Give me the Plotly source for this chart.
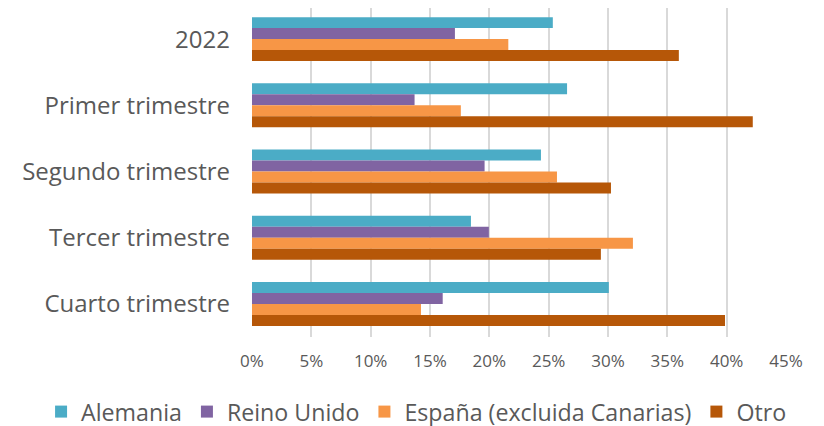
import plotly.graph_objects as go

categories = ["2022", "Primer trimestre", "Segundo trimestre", "Tercer trimestre", "Cuarto trimestre"]
series_names = ["Alemania", "Reino Unido", "España (excluida Canarias)", "Otro"]
alemania = [25.35, 26.55, 24.35, 18.45, 30.07]
reino_unido = [17.1, 13.7, 19.6, 19.96, 16.07]
espana = [21.6, 17.6, 25.7, 32.1, 14.24]
otro = [35.97, 42.2, 30.25, 29.4, 39.86]
x_ticks = [0, 5, 10, 15, 20, 25, 30, 35, 40, 45]
x_tick_labels = ["0%", "5%", "10%", "15%", "20%", "25%", "30%", "35%", "40%", "45%"]

colors = ["#4BACC6", "#8064A2", "#F79646", "#B65708"]
values = [alemania, reino_unido, espana, otro]

fig = go.Figure()
for name, vals, col in zip(series_names, values, colors):
    fig.add_trace(go.Bar(y=categories, x=vals, name=name, orientation="h",
                         marker=dict(color=col, line=dict(width=0))))

font_family = "'Open Sans', 'DejaVu Sans', sans-serif"
fig.update_layout(
    width=824, height=426,
    margin=dict(l=244, r=46, t=0, b=97, autoexpand=False),
    paper_bgcolor="white", plot_bgcolor="white",
    barmode="group", bargap=0.336, bargroupgap=0,
    font=dict(family=font_family, color="#595959"),
    showlegend=True,
    legend=dict(orientation="h", x=-0.395, xanchor="left", y=-0.228, yanchor="middle",
                traceorder="normal", font=dict(size=23.2, color="#595959"),
                itemwidth=30, tracegroupgap=0, bgcolor="rgba(0,0,0,0)"),
    xaxis=dict(range=[0, 45], tickmode="array", tickvals=x_ticks, ticktext=x_tick_labels,
               showgrid=True, gridcolor="#D9D9D9", gridwidth=1.5,
               zeroline=False, showline=False, ticks="",
               tickfont=dict(size=17, color="#595959"), ticklabelstandoff=12),
    yaxis=dict(range=[4.5, -0.47], showgrid=False, showline=False, ticks="",
               tickfont=dict(size=24, color="#595959"), ticklabelstandoff=21),
)
fig.write_html("out.html")
